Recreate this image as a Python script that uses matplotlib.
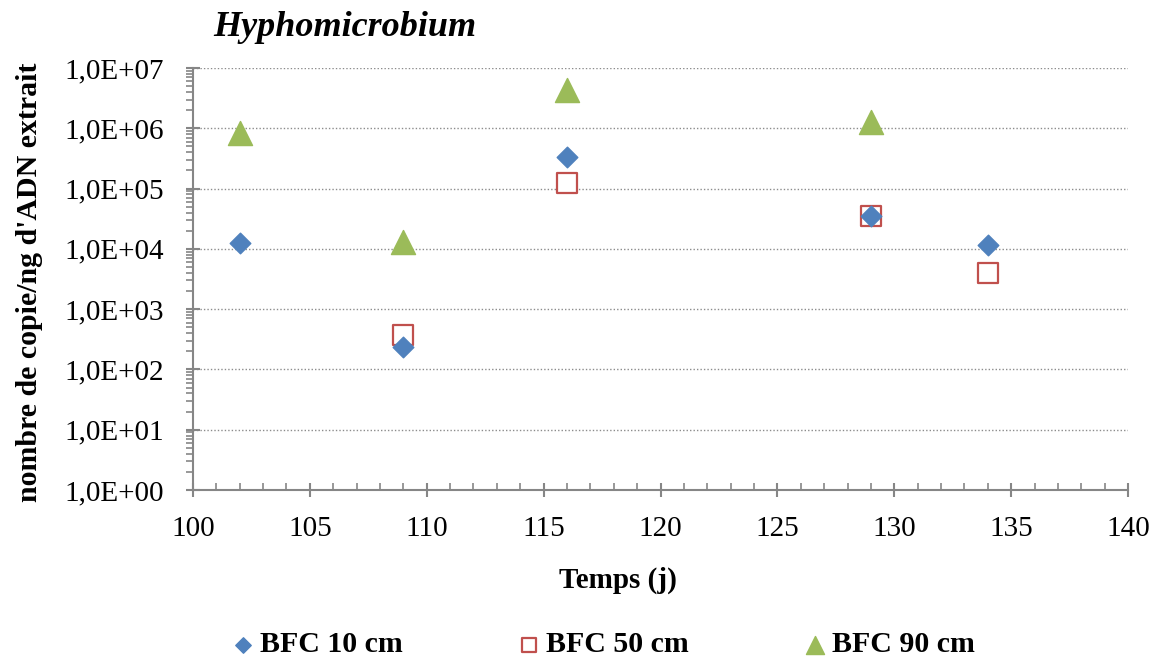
import numpy as np
import matplotlib
matplotlib.use('Agg')
import matplotlib.pyplot as plt
from matplotlib.ticker import MultipleLocator, LogLocator, FixedLocator, NullFormatter

plt.rcParams['font.family'] = ['Liberation Serif', 'DejaVu Serif']

# data
temps_10 = [102, 109, 116, 129, 134]
bfc_10 = [1.26e4, 2.4e2, 3.4e5, 3.5e4, 1.17e4]

temps_50 = [109, 116, 129, 134]
bfc_50 = [3.7e2, 1.25e5, 3.5e4, 3.95e3]

temps_90 = [102, 109, 116, 129]
bfc_90 = [8.5e5, 1.3e4, 4.4e6, 1.26e6]

y_ticks = [1e0, 1e1, 1e2, 1e3, 1e4, 1e5, 1e6, 1e7]
y_labels = ['1,0E+00', '1,0E+01', '1,0E+02', '1,0E+03', '1,0E+04', '1,0E+05', '1,0E+06', '1,0E+07']

blue = '#4F81BD'
red = '#C0504D'
green = '#9BBB59'
axis_grey = '#868686'

fig = plt.figure(figsize=(11.59, 6.61), dpi=100)
ax = fig.add_axes([0.1665, 0.2587, 0.8068, 0.6384])

ax.scatter(temps_50, bfc_50, marker='s', s=190, facecolors='white', edgecolors=red,
           linewidths=1.6, label='BFC 50 cm', zorder=3)
ax.scatter(temps_90, bfc_90, marker='^', s=300, color=green, label='BFC 90 cm', zorder=3)
ax.scatter(temps_10, bfc_10, marker='D', s=110, color=blue, label='BFC 10 cm', zorder=4)

ax.set_yscale('log')
ax.set_xlim(100, 140)
ax.set_ylim(1, 1e7)

ax.xaxis.set_major_locator(MultipleLocator(5))
ax.xaxis.set_minor_locator(MultipleLocator(1))
ax.yaxis.set_major_locator(FixedLocator(y_ticks))
ax.set_yticklabels(y_labels)
ax.yaxis.set_minor_locator(LogLocator(base=10, subs=np.arange(2, 10), numticks=20))
ax.yaxis.set_minor_formatter(NullFormatter())

ax.tick_params(axis='both', which='major', direction='inout', length=10, width=1.5,
               color=axis_grey, labelsize=21)
ax.tick_params(axis='y', which='major', pad=16)
ax.tick_params(axis='x', which='major', pad=14)
ax.tick_params(axis='x', which='minor', direction='in', length=5, width=1.2, color=axis_grey)
ax.tick_params(axis='y', which='minor', direction='out', length=5, width=1.2, color=axis_grey)

for side in ['top', 'right']:
    ax.spines[side].set_visible(False)
for side in ['left', 'bottom']:
    ax.spines[side].set_color(axis_grey)
    ax.spines[side].set_linewidth(1.5)

ax.yaxis.grid(True, which='major', linestyle=(0, (1, 1.5)), color='#8c8c8c', linewidth=1.0)
ax.set_axisbelow(True)

fig.text(618 / 1159, 1 - 580 / 661, 'Temps (j)', fontsize=21, fontweight='bold',
         ha='center', va='center')
fig.text(30 / 1159, 1 - 282 / 661, "nombre de copie/ng d'ADN extrait", fontsize=21.5,
         fontweight='bold', rotation=90, ha='center', va='center')
fig.text(213 / 1159, 1 - 28 / 661, 'Hyphomicrobium', fontsize=26, fontweight='bold',
         fontstyle='italic', ha='left', va='center')

handles, labels = ax.get_legend_handles_labels()
order = [2, 0, 1]
fig.legend([handles[i] for i in order], [labels[i] for i in order],
           loc='center', bbox_to_anchor=(603 / 1159, 1 - 645 / 661),
           ncol=3, frameon=False, prop={'weight': 'bold', 'size': 21.5},
           handlelength=0.8, handletextpad=0.15, columnspacing=3.85, markerscale=0.75,
           borderpad=0, borderaxespad=0)

fig.savefig('out.png', dpi=100)
